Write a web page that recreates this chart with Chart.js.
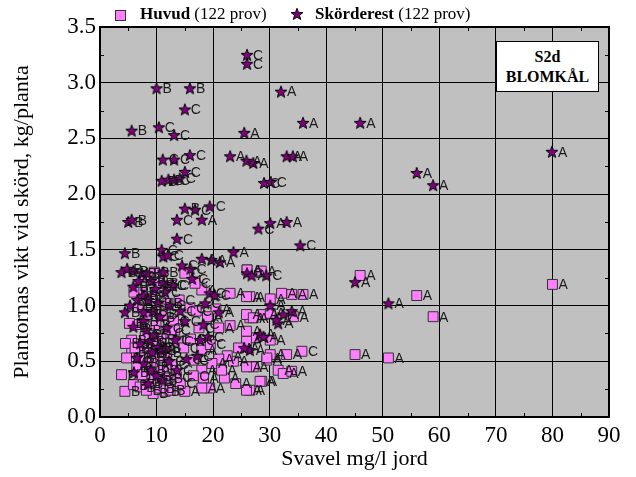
<!DOCTYPE html>
<html>
<head>
<meta charset="utf-8">
<script src="https://cdn.jsdelivr.net/npm/chart.js@4.4.0/dist/chart.umd.min.js"></script>
<style>
  body { margin: 0; background: #fff; }
  .wrap { position: relative; width: 636px; height: 477px; }
  .legend { position: absolute; top: 4px; font: 17px "Liberation Serif", serif; color: #000; white-space: nowrap; }
  .legend b { font-weight: bold; }
  .sq { position: absolute; left: 115px; top: 10px; width: 9px; height: 9px; background: #ff80ff; border: 1px solid #333; }
  .tag { position: absolute; left: 496px; top: 41px; width: 103px; height: 51px; background: #fff; border: 1px solid #000;
         font: bold 16px "Liberation Serif", serif; text-align: center; line-height: 20px; padding-top: 5px; box-sizing: border-box; }
</style>
</head>
<body>
<div class="wrap">
  <canvas id="chart" width="636" height="477"></canvas>
  <div class="sq"></div>
  <div class="legend" style="left:140px"><b>Huvud</b> (122 prov)</div>
  <canvas id="legStar" width="14" height="14" style="position:absolute;left:290px;top:7px"></canvas>
  <div class="legend" style="left:315px"><b>Skörderest</b> (122 prov)</div>
  <div class="tag">S2d<br>BLOMKÅL</div>
</div>
<script>
/* ── DATA ── */
const xTicks = [0, 10, 20, 30, 40, 50, 60, 70, 80, 90];
const yTicks = [0.0, 0.5, 1.0, 1.5, 2.0, 2.5, 3.0, 3.5];

// Skörderest (stars)
const skordX = [26.0, 26.0, 10.0, 15.9, 15.0, 5.6, 10.4, 13.1, 25.5, 32.0,
  35.9, 46.0, 11.1, 13.1, 15.9, 23.0, 25.9, 27.1, 33.0, 34.1,
  15.0, 10.9, 12.1, 13.1, 14.1, 29.0, 30.2, 56.0, 58.9, 79.9,
  15.0, 16.8, 19.4, 5.0, 5.6, 13.6, 18.0, 28.0, 30.1, 33.0,
  35.4, 13.6, 4.4, 10.9, 11.2, 23.6, 18.0, 19.7, 21.2, 3.8,
  5.9, 7.4, 26.0, 29.4, 45.1, 51.0, 30.1, 32.4, 33.9, 31.5,
  28.3, 28.9, 26.5, 26.8, 8.3, 11.2, 5.9, 7.7, 11.2, 11.5,
  5.3, 4.4, 7.7, 7.7, 5.9, 7.1, 8.8, 10.3, 10.9, 6.5,
  13.3, 15.0, 18.3, 17.7, 19.1, 18.6, 19.4, 25.5, 31.2, 14.5,
  16.0, 12.0, 9.0, 9.8, 8.5, 10.2, 9.3, 10.6, 6.6, 8.2,
  9.6, 11.8, 12.4, 7.8, 9.0, 10.0, 11.0, 8.5, 12.2, 13.6,
  15.3, 17.2, 6.8, 4.8, 20.3, 21.0, 16.3, 12.9, 14.2, 9.2,
  6.0, 11.6];
const skordY = [3.25, 3.17, 2.95, 2.95, 2.76, 2.57, 2.60, 2.53, 2.55, 2.92,
  2.64, 2.64, 2.31, 2.31, 2.35, 2.34, 2.30, 2.28, 2.34, 2.34,
  2.20, 2.12, 2.13, 2.13, 2.14, 2.10, 2.11, 2.19, 2.08, 2.38,
  1.87, 1.86, 1.89, 1.75, 1.77, 1.77, 1.77, 1.69, 1.74, 1.75,
  1.54, 1.60, 1.47, 1.50, 1.44, 1.48, 1.42, 1.41, 1.39, 1.30,
  1.31, 1.29, 1.29, 1.27, 1.21, 1.02, 1.00, 0.92, 0.95, 0.84,
  0.74, 0.72, 0.60, 1.27, 1.29, 1.30, 1.17, 1.09, 1.20, 1.12,
  1.00, 0.94, 0.94, 0.86, 0.81, 0.66, 0.68, 0.63, 0.60, 0.53,
  0.69, 0.86, 0.83, 0.69, 0.72, 1.02, 1.11, 0.62, 0.87, 1.36,
  1.33, 1.45, 1.22, 1.15, 1.05, 1.02, 0.95, 0.90, 1.05, 0.78,
  0.74, 0.80, 1.00, 0.48, 0.42, 0.37, 0.33, 0.30, 0.50, 0.42,
  0.52, 0.55, 1.22, 1.33, 1.09, 0.94, 1.24, 1.18, 0.95, 0.58,
  0.40, 0.62];
const skordLbl = ['C','C','B','B','C','B','C','C','A','A',
  'A','A','C','C','C','A','A','A','A','A',
  'C','B','B','C','C','C','C','A','A','A',
  'B','C','C','B','B','C','A','C','A','A',
  'C','C','B','C','C','A','A','A','A','B',
  'B','B','C','C','A','A','A','A','A','A',
  'A','A','A','A','B','B','B','B','B','C',
  'B','B','B','B','B','B','B','C','B','B',
  'C','C','C','C','C','C','C','A','A','C',
  'C','C','B','B','B','B','B','B','B','B',
  'B','C','C','B','B','B','B','B','C','C',
  'C','C','B','B','C','A','C','C','C','B',
  'B','B'];

// Huvud (squares)
const huvudX = [46.0, 56.0, 58.9, 45.1, 51.0, 80.0, 35.9, 32.1, 33.9, 30.1,
  26.5, 28.9, 30.1, 34.2, 26.5, 27.1, 30.1, 30.1, 33.0, 35.7,
  29.5, 31.5, 32.4, 33.9, 28.6, 26.5, 27.1, 15.0, 18.0, 23.0,
  25.9, 26.0, 15.9, 13.0, 25.9, 27.1, 12.1, 13.8, 18.0, 16.5,
  23.6, 25.9, 25.9, 29.5, 25.9, 28.3, 25.9, 18.0, 18.3, 19.4,
  18.0, 15.0, 5.6, 5.6, 4.7, 3.8, 4.4, 5.9, 7.7, 8.8,
  10.3, 9.7, 11.2, 8.8, 10.3, 7.1, 9.4, 11.5, 12.4, 28.5,
  26.0, 20.5, 21.0, 22.5, 21.0, 19.8, 17.5, 19.5, 16.8, 14.0,
  12.5, 6.3, 6.8, 7.5, 8.4, 9.2, 10.5, 9.9, 10.8, 8.0,
  6.5, 7.4, 9.0, 10.0, 11.8, 12.8, 13.5, 14.2, 11.0, 12.0,
  4.5, 5.2, 6.0, 8.0, 9.6, 16.0, 16.5, 17.0, 22.0, 24.0,
  23.0, 19.0, 10.6, 8.2, 6.2, 9.3, 7.0, 12.0, 14.8, 13.2,
  21.5, 24.5];
const huvudY = [1.27, 1.09, 0.90, 0.56, 0.53, 1.19, 1.10, 1.11, 1.10, 1.06,
  1.08, 0.92, 0.93, 0.90, 0.89, 0.71, 0.69, 0.56, 0.56, 0.59,
  0.51, 0.42, 0.39, 0.41, 0.32, 0.24, 0.45, 1.29, 1.14, 1.11,
  1.08, 1.32, 0.98, 0.86, 0.92, 0.89, 0.75, 0.68, 0.60, 0.51,
  0.50, 0.68, 0.77, 0.53, 0.45, 0.32, 0.24, 0.42, 0.35, 0.26,
  0.26, 0.23, 0.69, 0.59, 0.53, 0.38, 0.23, 0.29, 0.60, 0.57,
  0.53, 0.45, 0.42, 0.36, 0.32, 0.27, 0.21, 0.23, 0.24, 1.31,
  1.32, 0.97, 0.80, 0.55, 0.52, 0.48, 0.80, 0.65, 1.20, 1.05,
  1.18, 0.83, 0.98, 1.12, 0.92, 1.08, 1.20, 0.82, 0.70, 0.72,
  0.45, 0.38, 0.50, 0.62, 0.58, 0.47, 0.36, 0.30, 0.92, 1.02,
  0.66, 0.84, 1.12, 1.25, 1.30, 0.70, 0.37, 0.95, 0.35, 0.30,
  0.82, 0.90, 0.26, 0.24, 0.62, 0.66, 0.53, 0.35, 0.62, 0.78,
  0.42, 0.62];
const huvudLbl = ['A','A','A','A','A','A','A','A','A','A',
  'A','A','A','A','A','A','A','A','A','C',
  'A','A','A','A','A','A','A','C','A','A',
  'A','A','C','C','A','A','C','C','A','C',
  'A','A','A','A','A','A','A','A','A','A',
  'A','A','B','B','B','B','B','B','B','B',
  'B','B','B','B','B','B','B','B','B','A',
  'A','A','A','A','A','A','C','C','C','C',
  'C','B','B','B','B','B','B','B','B','B',
  'B','B','B','B','B','C','C','C','B','B',
  'B','B','B','B','B','C','C','C','A','A',
  'A','A','B','B','B','B','B','B','C','C',
  'A','A'];

/* ── STAR MARKER ── */
function drawStar(c, size) {
  const g = c.getContext('2d');
  const cx = size / 2, cy = size / 2 + 0.5, R = size / 2 - 0.8, r = R * 0.42;
  g.beginPath();
  for (let i = 0; i < 10; i++) {
    const a = -Math.PI / 2 + i * Math.PI / 5;
    const rr = i % 2 ? r : R;
    g.lineTo(cx + rr * Math.cos(a), cy + rr * Math.sin(a));
  }
  g.closePath();
  g.fillStyle = '#800080';
  g.fill();
  g.strokeStyle = '#000';
  g.lineWidth = 1;
  g.stroke();
  return c;
}
const starImg = document.createElement('canvas');
starImg.width = 14; starImg.height = 14;
drawStar(starImg, 14);
drawStar(document.getElementById('legStar'), 14);

/* ── PLUGINS ── */
const plotBg = {
  id: 'plotBg',
  beforeDraw(chart) {
    const { ctx, chartArea: a } = chart;
    ctx.save();
    ctx.fillStyle = '#c0c0c0';
    ctx.fillRect(a.left, a.top, a.right - a.left, a.bottom - a.top);
    ctx.restore();
  },
  afterDraw(chart) {
    const { ctx, chartArea: a, scales } = chart;
    ctx.save();
    ctx.strokeStyle = '#000';
    ctx.lineWidth = 1;
    ctx.beginPath();
    for (let v = 5; v < 90; v += 10) {
      const px = Math.round(scales.x.getPixelForValue(v)) + 0.5;
      ctx.moveTo(px, a.top); ctx.lineTo(px, a.top + 4);
      ctx.moveTo(px, a.bottom); ctx.lineTo(px, a.bottom - 4);
    }
    for (let v = 0.25; v < 3.5; v += 0.5) {
      const py = Math.round(scales.y.getPixelForValue(v)) + 0.5;
      ctx.moveTo(a.left, py); ctx.lineTo(a.left + 4, py);
      ctx.moveTo(a.right, py); ctx.lineTo(a.right - 4, py);
    }
    ctx.stroke();
    ctx.lineWidth = 2;
    ctx.strokeRect(a.left, a.top, a.right - a.left, a.bottom - a.top);
    ctx.restore();
  }
};

const pointLabels = {
  id: 'pointLabels',
  afterDatasetDraw(chart, args) {
    const ds = chart.data.datasets[args.index];
    const { ctx } = chart;
    ctx.save();
    ctx.font = '14px "Liberation Sans", Arial, sans-serif';
    ctx.fillStyle = '#1a1a1a';
    ctx.textBaseline = 'middle';
    args.meta.data.forEach((el, i) => {
      ctx.fillText(ds.letters[i], el.x + 6, el.y + 1);
    });
    ctx.restore();
  }
};

/* ── CHART ── */
const toPoints = (xs, ys) => xs.map((x, i) => ({ x, y: ys[i] }));
const tickFont = { family: '"Liberation Serif", "Times New Roman", serif', size: 23 };
const titleFont = { family: '"Liberation Serif", "Times New Roman", serif', size: 22 };

new Chart(document.getElementById('chart'), {
  type: 'scatter',
  data: {
    datasets: [
      { label: 'Skörderest', data: toPoints(skordX, skordY), letters: skordLbl,
        pointStyle: starImg, pointRadius: 7 },
      { label: 'Huvud', data: toPoints(huvudX, huvudY), letters: huvudLbl,
        pointStyle: 'rect', pointRadius: 7, backgroundColor: '#ff80ff',
        borderColor: '#333', borderWidth: 1 },
    ]
  },
  options: {
    responsive: false, animation: false,
    layout: { padding: { left: 0, right: 27, top: 27, bottom: 0 } },
    plugins: { legend: { display: false }, tooltip: { enabled: false } },
    scales: {
      x: {
        min: 0, max: 90,
        afterBuildTicks: s => { s.ticks = xTicks.map(v => ({ value: v })); },
        afterFit: s => { s.height = 60; },
        ticks: { font: tickFont, color: '#000', padding: 5, maxRotation: 0 },
        grid: { color: '#000', lineWidth: 1, drawTicks: false },
        border: { color: '#000', width: 2 },
        title: { display: true, text: 'Svavel mg/l jord', font: titleFont, color: '#000', padding: { top: 5, bottom: 5 } }
      },
      y: {
        min: 0, max: 3.5,
        afterBuildTicks: s => { s.ticks = yTicks.map(v => ({ value: v })); },
        afterFit: s => { s.width = 100; },
        ticks: { font: tickFont, color: '#000', padding: 4, callback: v => v.toFixed(1) },
        grid: { color: '#000', lineWidth: 1, drawTicks: false },
        border: { color: '#000', width: 2 },
        title: { display: true, text: 'Plantornas vikt vid skörd, kg/planta', font: titleFont, color: '#000', padding: { top: 9, bottom: 0 } }
      }
    }
  },
  plugins: [plotBg, pointLabels]
});
</script>
</body>
</html>
